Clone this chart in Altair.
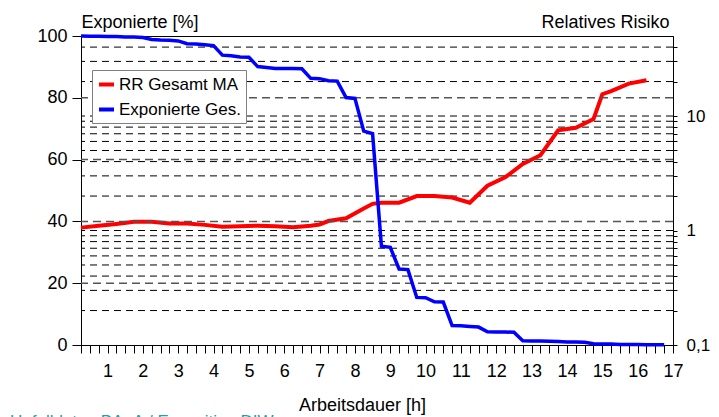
import altair as alt
import pandas as pd

FONT = "Liberation Sans"

# Exponierte Ges. [%] (quarter-hour steps)
blue_h = [0.25, 0.5, 0.75, 1.0, 1.25, 1.5, 1.75, 2.0, 2.25, 2.5,
          2.75, 3.0, 3.25, 3.5, 3.75, 4.0, 4.25, 4.5, 4.75, 5.0,
          5.25, 5.5, 5.75, 6.0, 6.25, 6.5, 6.75, 7.0, 7.25, 7.5,
          7.75, 8.0, 8.25, 8.5, 8.75, 9.0, 9.25, 9.5, 9.75, 10.0,
          10.25, 10.5, 10.75, 11.0, 11.25, 11.5, 11.75, 12.0, 12.25, 12.5,
          12.75, 13.0, 13.25, 13.5, 13.75, 14.0, 14.25, 14.5, 14.75, 15.0,
          15.25, 15.5, 15.75, 16.0, 16.25, 16.5, 16.75]
blue_v = [100, 99.9, 99.9, 99.8, 99.8, 99.7, 99.7, 99.5, 98.9, 98.7,
          98.6, 98.4, 97.5, 97.4, 97.2, 96.9, 93.8, 93.6, 93.2, 93.1,
          90.1, 89.8, 89.5, 89.5, 89.5, 89.4, 86.3, 86.2, 85.5, 85.4,
          80.1, 79.8, 69.2, 68.4, 32.0, 31.6, 24.6, 24.4, 15.4, 15.3,
          14.0, 13.9, 6.3, 6.2, 6.0, 5.8, 4.3, 4.2, 4.2, 4.1,
          1.4, 1.3, 1.3, 1.2, 1.1, 1.0, 1.0, 0.9, 0.4, 0.3,
          0.3, 0.2, 0.2, 0.2, 0.1, 0.1, 0.1]

# RR Gesamt MA (relative risk, log axis)
red_h = [0.25, 0.75, 1.25, 1.75, 2.25, 2.75, 3.25, 3.75, 4.25, 4.75,
         5.25, 5.75, 6.25, 6.75, 7.0, 7.25, 7.75, 8.25, 8.5, 8.75,
         9.25, 9.75, 10.25, 10.75, 11.25, 11.75, 12.25, 12.75, 13.25, 13.75,
         14.25, 14.75, 15.0, 15.25, 15.75, 16.25]
red_v = [1.06, 1.10, 1.14, 1.19, 1.19, 1.15, 1.15, 1.12, 1.08, 1.09,
         1.10, 1.09, 1.07, 1.10, 1.13, 1.21, 1.28, 1.56, 1.71, 1.75,
         1.75, 2.0, 2.0, 1.94, 1.75, 2.46, 2.91, 3.81, 4.55, 7.5,
         7.9, 9.4, 15.5, 16.5, 19.2, 20.5]

series = ["RR Gesamt MA", "Exponierte Ges."]
series_colors = ["#ff0000", "#0000ff"]

left_grid_vals = [20, 40, 60, 80]
log_grid_vals = [0.2, 0.3, 0.4, 0.5, 0.6, 0.7, 0.8, 0.9, 1, 2, 3, 4, 5, 6, 7, 8, 9, 10, 20, 30, 40]
left_tick_vals = list(range(0, 101, 5))
right_tick_vals = [0.1] + log_grid_vals
x_tick_vals = blue_h + [17.0]

footer = "Unfalldaten BAuA / Exposition DIW"

df_blue = pd.DataFrame({"h": blue_h, "v": blue_v, "s": series[1]})
df_red = pd.DataFrame({"h": red_h, "v": red_v, "s": series[0]})
df_lgrid = pd.DataFrame({"g": left_grid_vals})
df_rgrid = pd.DataFrame({"g": log_grid_vals})

FS = 18

x_scale = alt.Scale(domain=[0.25, 17], nice=False, zero=False)
left_scale = alt.Scale(domain=[0, 100], nice=False, zero=True)
log_scale = alt.Scale(type="log", domain=[0.1, 50], nice=False)

x_axis = alt.Axis(
    values=x_tick_vals,
    labelExpr="datum.value % 1 == 0 ? format(datum.value, 'd') : ''",
    tickSize=8, labelPadding=9, grid=False,
    labelFontSize=FS, title="Arbeitsdauer [h]", titleFontSize=FS,
    titleFontWeight="normal", titleX=281, titleY=65, titleBaseline="alphabetic",
    labelFlush=False, labelOverlap=False,
)
color = alt.Color("s:N", scale=alt.Scale(domain=series, range=series_colors),
                  legend=alt.Legend(orient="none", legendX=11, legendY=34, title=None,
                                    symbolType="stroke", symbolStrokeWidth=4, symbolSize=225,
                                    labelFontSize=17, labelFont=FONT, fillColor="white",
                                    strokeColor="#808080", padding=5, rowPadding=7,
                                    labelOffset=3, labelLimit=300))

left_axis = alt.Axis(
    orient="left", values=left_tick_vals,
    labelExpr="datum.value % 20 == 0 ? format(datum.value, 'd') : ''",
    tickSize={"condition": {"test": "datum.value % 20 == 0", "value": 9}, "value": 4},
    labelPadding=5, grid=False, labelFontSize=FS,
    title="Exponierte [%]", titleAngle=0, titleX=0, titleY=-9, titleAlign="left",
    titleBaseline="alphabetic", titleFontSize=FS, titleFontWeight="normal",
)
right_axis = alt.Axis(
    orient="right", values=right_tick_vals,
    labelExpr="datum.value == 0.1 ? '0,1' : (datum.value == 1 ? '1' : (datum.value == 10 ? '10' : ''))",
    tickSize=4, labelPadding=9, grid=False, labelFontSize=17,
    title="Relatives Risiko", titleAngle=0, titleX=-4, titleY=-9, titleAlign="right",
    titleBaseline="alphabetic", titleFontSize=FS, titleFontWeight="normal",
)

rgrid = alt.Chart(df_rgrid).mark_rule(color="black", strokeWidth=1, strokeDash=[7, 5]).encode(
    y=alt.Y("g:Q", scale=log_scale)
)
red = alt.Chart(df_red).mark_line(strokeWidth=4).encode(
    x=alt.X("h:Q", scale=x_scale, axis=x_axis),
    y=alt.Y("v:Q", scale=log_scale, axis=right_axis),
    color=color,
)
right_group = alt.layer(rgrid, red)

lgrid = alt.Chart(df_lgrid).mark_rule(color="#555555", strokeWidth=1.5, strokeDash=[8, 5]).encode(
    y=alt.Y("g:Q", scale=left_scale)
)
blue = alt.Chart(df_blue).mark_line(strokeWidth=3.5).encode(
    x=alt.X("h:Q", scale=x_scale, axis=x_axis),
    y=alt.Y("v:Q", scale=left_scale, axis=left_axis),
    color=color,
)
foot = alt.Chart(pd.DataFrame({"t": [footer]})).mark_text(
    align="left", baseline="alphabetic", fontSize=17, font=FONT, color="#2a9d9d"
).encode(text="t:N", x=alt.value(-71), y=alt.value(391))
left_group = alt.layer(lgrid, blue, foot)

chart = alt.layer(right_group, left_group).resolve_scale(y="independent").properties(
    width=592, height=309,
    padding={"left": 73, "top": 28, "right": 38, "bottom": 90},
    autosize=alt.AutoSizeParams(type="none"),
).configure(font=FONT).configure_view(
    stroke="black", strokeWidth=1
).configure_axis(
    domainColor="black", tickColor="black", labelColor="black", titleColor="black",
    labelFont=FONT, titleFont=FONT, domainWidth=1, tickWidth=1,
)

chart.save("out.html", embed_options={"renderer": "svg", "actions": False})
